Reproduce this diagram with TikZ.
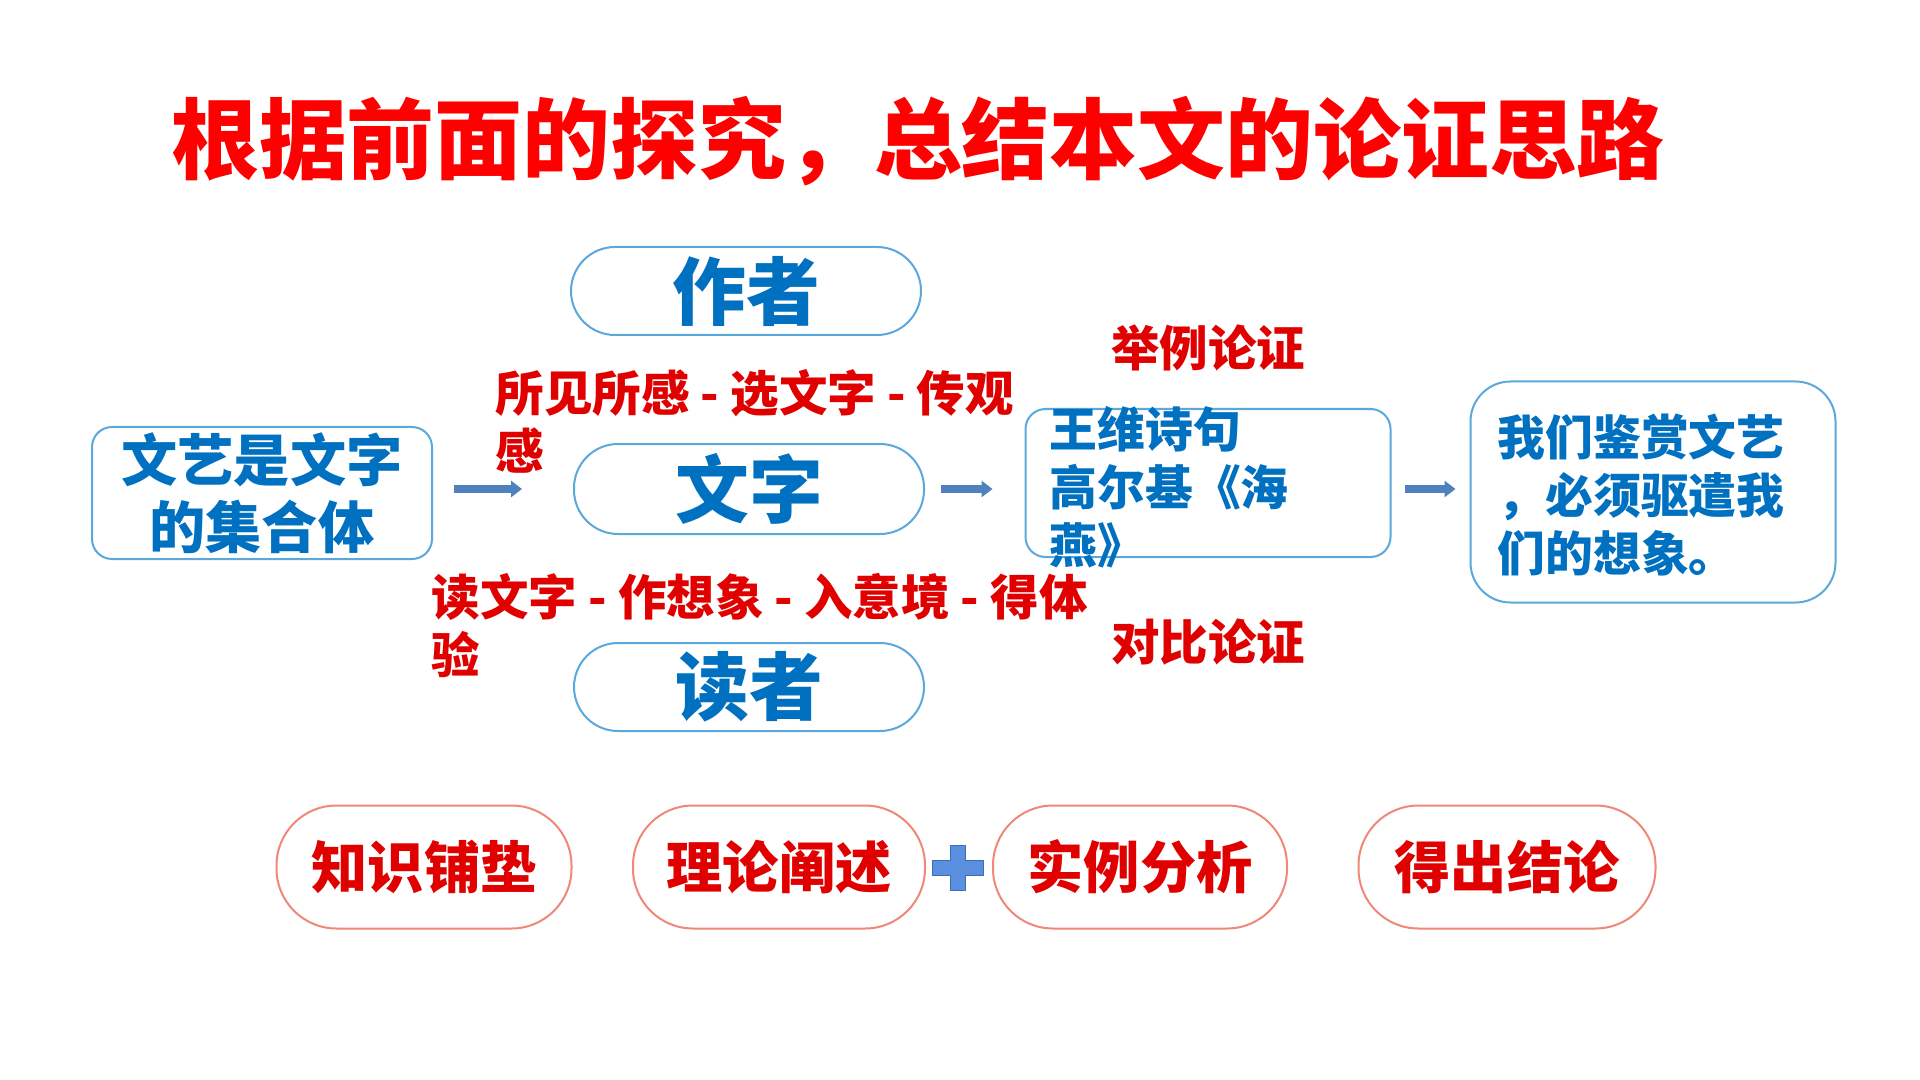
\documentclass[tikz,border=0pt]{standalone}
\usepackage{fontspec}
\setmainfont{Noto Sans CJK SC}
\usepackage{tikz}
\usetikzlibrary{arrows.meta,positioning}
\definecolor{titlered}{HTML}{FF0000}
\definecolor{labelred}{HTML}{E00000}
\definecolor{textblue}{HTML}{0070C0}
\definecolor{lineblue}{HTML}{5BA8DC}
\definecolor{linered}{HTML}{F08878}
\definecolor{arrowblue}{HTML}{4F81BD}
\definecolor{plusfill}{HTML}{5B8FE0}
\definecolor{plusline}{HTML}{3D6DB5}
\tikzset{
  pill/.style   ={rounded corners=0.44cm,draw=lineblue,line width=0.02cm,inner sep=0pt,
                  minimum width=3.5cm,minimum height=0.88cm,text=textblue,
                  font=\fontsize{21pt}{25pt}\selectfont\bfseries},
  card/.style   ={rounded corners=0.2cm,draw=lineblue,line width=0.02cm,inner sep=0pt,
                  text=textblue,align=center},
  redpill/.style={rounded corners=0.6cm,draw=linered,line width=0.02cm,inner sep=0pt,
                  minimum width=2.95cm,minimum height=1.23cm,text=labelred,
                  font=\fontsize{16pt}{19pt}\selectfont\bfseries},
  note/.style   ={text=labelred,inner sep=0pt,align=left,anchor=west,
                  font=\fontsize{13.8pt}{16.5pt}\selectfont\bfseries},
  bluenote/.style={text=textblue,inner sep=0pt,align=left,anchor=west,
                  font=\fontsize{13.6pt}{16.5pt}\selectfont\bfseries},
  flow/.style   ={-{Triangle[length=1.1mm,width=1.6mm]},line width=0.08cm,draw=arrowblue},
  plussign/.style={fill=plusfill,draw=plusline,line width=0.015cm}
}
\begin{document}
\begin{tikzpicture}[x=1cm,y=-1cm]
    \useasboundingbox[fill=white] (0,0) rectangle (19.2,10.8);
    % --- title ---
    \node[text=titlered,inner sep=0pt,font=\fontsize{25pt}{30pt}\selectfont\bfseries]
      (title) at (9.18,1.41) {根据前面的探究，总结本文的论证思路};
    % --- left box and the three pills ---
    \node[card,minimum width=3.4cm,minimum height=1.32cm,
          font=\fontsize{16pt}{19pt}\selectfont\bfseries] (jihe) at (2.62,4.93)
      {文艺是文字\\的集合体};
    \node[pill] (zuo) at (7.46,2.91) {作者};
    \node[pill,minimum height=0.90cm] (wen) at (7.49,4.89) {文字};
    \node[pill] (du) at (7.49,6.87) {读者};
    % --- red notes round the pills ---
    \node[note] (suojian) at (4.95,4.21) {所见所感 - 选文字 - 传观\\感};
    \node[note] (duwen) at (4.31,6.26) {读文字 - 作想象 - 入意境 - 得体\\验};
    % --- examples ---
    \node[card,minimum width=3.65cm,minimum height=1.48cm] (wangwei) at (12.08,4.83) {};
    \node[bluenote] (wangweitxt) at (10.49,4.87) {王维诗句\\高尔基《海\\燕》};
    \node[note,anchor=center] (juli) at (12.08,3.48) {举例论证};
    \node[note,anchor=center] (duibi) at (12.08,6.42) {对比论证};
    % --- conclusion ---
    \node[card,rounded corners=0.4cm,minimum width=3.65cm,minimum height=2.21cm]
      (xiang) at (16.53,4.92) {};
    \node[bluenote] (xiangtxt) at (14.97,4.95) {我们鉴赏文艺\\，必须驱遣我\\们的想象。};
    % --- flow ---
    \draw[flow,shorten <=0.21cm,shorten >=0.51cm] (jihe.east |- wen) -- (wen.west);
    \draw[flow,shorten <=0.16cm,shorten >=0.32cm] (wen.east) -- (wen.east -| wangwei.west);
    \draw[flow,shorten <=0.13cm,shorten >=0.14cm] (wangwei.east |- wen) -- (xiang.west |- wen);
    % --- bottom row ---
    \node[redpill] (zhishi) at (4.24,8.67) {知识铺垫};
    \node[redpill,minimum width=2.92cm] (lilun) at (7.79,8.67) {理论阐述};
    \node[redpill,minimum width=2.94cm] (shili) at (11.40,8.67) {实例分析};
    \node[redpill,minimum width=2.97cm] (jielun) at (15.07,8.67) {得出结论};
    % plus between the two middle pills
    \begin{scope}[shift={(9.58,8.68)}]
      \draw[plussign] (-0.255,-0.075) -- (-0.075,-0.075) -- (-0.075,-0.225) -- (0.075,-0.225)
        -- (0.075,-0.075) -- (0.255,-0.075) -- (0.255,0.075) -- (0.075,0.075) -- (0.075,0.225)
        -- (-0.075,0.225) -- (-0.075,0.075) -- (-0.255,0.075) -- cycle;
    \end{scope}
\end{tikzpicture}
\end{document}
